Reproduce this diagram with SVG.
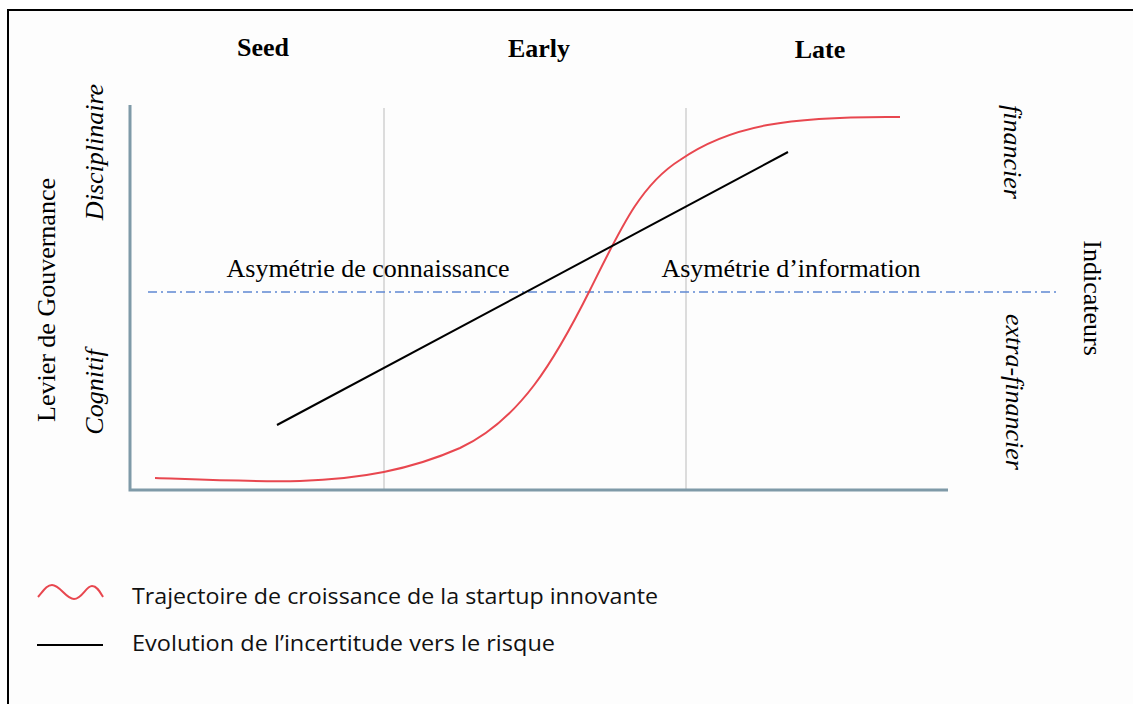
<svg xmlns="http://www.w3.org/2000/svg" width="1133" height="704" viewBox="0 0 1133 704">
<style>
.serif{font-family:"Liberation Serif","Times New Roman",serif;fill:#000}
.b{font-weight:bold;font-size:26px}
.lab{font-size:26px}
.it{font-style:italic;font-size:26px}
.leg{font-family:"Open Sans","Liberation Sans",sans-serif;font-size:21px;fill:#111}
.grid{stroke:#dcdcdc;stroke-width:2}
.axis{stroke:#7f9aa8;stroke-width:3;fill:none}
</style>
<rect x="0" y="0" width="1133" height="704" fill="#ffffff"/>
<rect x="8" y="10" width="1140" height="710" fill="#fdfdfd" stroke="#000" stroke-width="2"/>
<g id="grid">
<line class="grid" x1="384" y1="108" x2="384" y2="490"/>
<line class="grid" x1="686" y1="108" x2="686" y2="490"/>
</g>
<g id="axes">
<polyline class="axis" points="130,105 130,490 948,490"/>
</g>
<g id="threshold">
<line x1="148" y1="292" x2="1058" y2="292" stroke="#5f88d2" stroke-width="1.5" stroke-dasharray="9,4,2,4"/>
</g>
<g id="stages">
<text class="serif b" x="263" y="56" text-anchor="middle">Seed</text>
<text class="serif b" x="539" y="57" text-anchor="middle">Early</text>
<text class="serif b" x="820" y="58" text-anchor="middle">Late</text>
</g>
<g id="left-axis-labels">
<text class="serif lab" transform="translate(55,300) rotate(-90)" text-anchor="middle">Levier de Gouvernance</text>
<text class="serif it" transform="translate(103,152) rotate(-90)" text-anchor="middle">Disciplinaire</text>
<text class="serif it" transform="translate(103,392) rotate(-90)" text-anchor="middle">Cognitif</text>
</g>
<g id="right-axis-labels">
<text class="serif it" transform="translate(1004,152) rotate(90)" text-anchor="middle">financier</text>
<text class="serif it" transform="translate(1006,392) rotate(90)" text-anchor="middle">extra-financier</text>
<text class="serif lab" transform="translate(1084,298) rotate(90)" text-anchor="middle">Indicateurs</text>
</g>
<g id="zone-labels">
<text class="serif lab" x="368" y="277" text-anchor="middle">Asymétrie de connaissance</text>
<text class="serif lab" x="791" y="277" text-anchor="middle">Asymétrie d’information</text>
</g>
<g id="connectors">
<path id="growth" d="M155,478 C210,480 250,482 300,481 C360,479 410,470 460,448 C520,420 555,360 590,290 C620,230 640,185 680,160 C730,125 790,116 900,117" fill="none" stroke="#e8474f" stroke-width="2"/>
<line id="risk" x1="277" y1="425" x2="788" y2="152" stroke="#000" stroke-width="2"/>
</g>
<g id="legend">
<path d="M38,597 C44,590 47,585 52,585 C60,585 66,599 74,599 C82,599 86,586 92,586 C97,586 100,592 103,597" fill="none" stroke="#e8474f" stroke-width="2"/>
<text class="leg" x="132" y="604" textLength="526" lengthAdjust="spacingAndGlyphs">Trajectoire de croissance de la startup innovante</text>
<line x1="37" y1="645" x2="103" y2="645" stroke="#000" stroke-width="2"/>
<text class="leg" x="132" y="651" textLength="423" lengthAdjust="spacingAndGlyphs">Evolution de l’incertitude vers le risque</text>
</g>
</svg>
